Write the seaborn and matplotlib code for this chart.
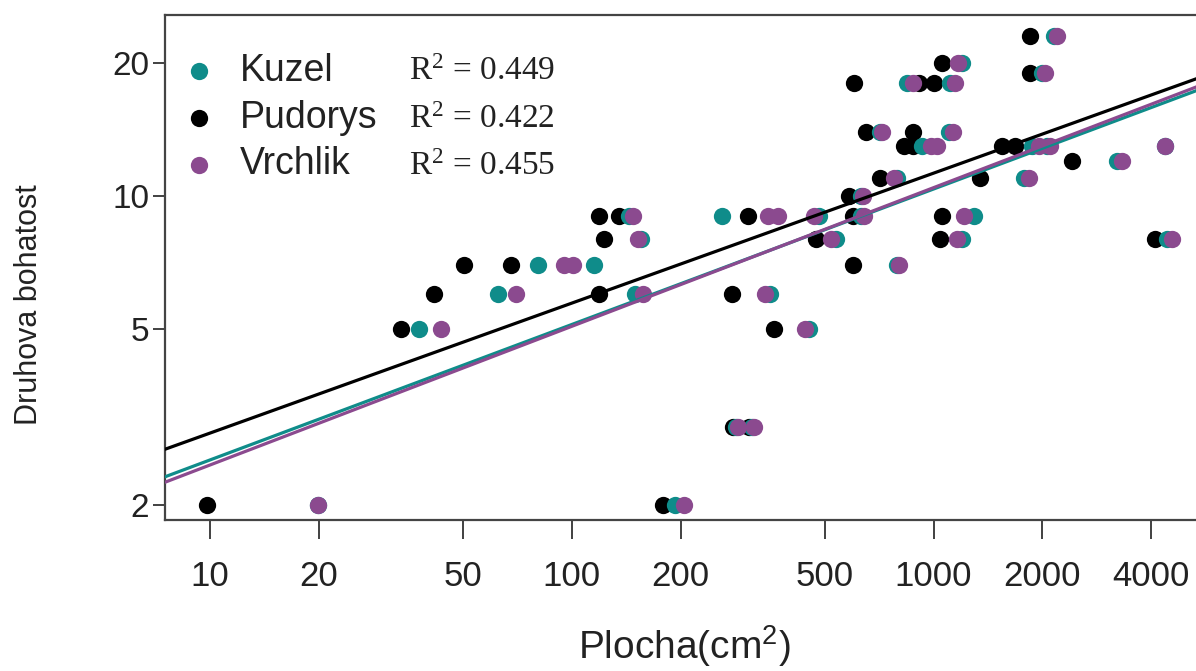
# %%
# Knihovny
import numpy as np
import pandas as pd
import matplotlib.pyplot as plt
import seaborn as sns

# %%
# Data - plocha v cm2, druhova bohatost
pudorys_plocha = [9.8, 179, 279, 309, 33.6, 363, 41.5, 119, 277, 50.2, 67.8, 600,
                  123, 474, 1040, 4093, 119, 135, 307, 600, 1052, 582, 713, 1341,
                  2411, 831, 880, 1542, 1676, 652, 880, 604, 909, 1006, 1845, 1052, 1845]
pudorys_druhy = [2, 2, 3, 3, 5, 5, 6, 6, 6, 7, 7, 7,
                 8, 8, 8, 8, 9, 9, 9, 9, 9, 10, 11, 11,
                 12, 13, 13, 13, 13, 14, 14, 18, 18, 18, 19, 20, 23]

kuzel_plocha = [19.9, 193, 285, 315, 37.9, 453, 62.4, 149, 352, 80.5, 115, 790,
                155, 538, 1196, 4420, 144, 260, 483, 632, 1291, 632, 790, 1775,
                3214, 927, 1868, 2055, 4365, 709, 1101, 842, 1107, 1992, 1196, 2149]
kuzel_druhy = [2, 2, 3, 3, 5, 5, 6, 6, 6, 7, 7, 7,
               8, 8, 8, 8, 9, 9, 9, 9, 9, 10, 11, 11,
               12, 13, 13, 13, 13, 14, 14, 18, 18, 19, 20, 23]

vrchlik_plocha = [19.8, 204, 288, 319, 43.4, 442, 70.0, 157, 342, 95.0, 101, 805,
                  152, 522, 1158, 4562, 148, 349, 372, 468, 644, 1211, 640, 775, 1833,
                  3318, 987, 1019, 1954, 2095, 4365, 718, 1135, 880, 1143, 2029, 1165, 2191]
vrchlik_druhy = [2, 2, 3, 3, 5, 5, 6, 6, 6, 7, 7, 7,
                 8, 8, 8, 8, 9, 9, 9, 9, 9, 9, 10, 11, 11,
                 12, 13, 13, 13, 13, 13, 14, 14, 18, 18, 19, 20, 23]

lokality = ['Pudorys', 'Kuzel', 'Vrchlik']
barvy = {'Kuzel': '#0f8c8a', 'Pudorys': '#000000', 'Vrchlik': '#8b4a8f'}
r2_texty = {'Kuzel': '0.449', 'Pudorys': '0.422', 'Vrchlik': '0.455'}

x_ticks = [10, 20, 50, 100, 200, 500, 1000, 2000, 4000]
y_ticks = [2, 5, 10, 20]

df = pd.concat([
    pd.DataFrame({'lokalita': 'Pudorys', 'plocha': pudorys_plocha, 'druhy': pudorys_druhy}),
    pd.DataFrame({'lokalita': 'Kuzel', 'plocha': kuzel_plocha, 'druhy': kuzel_druhy}),
    pd.DataFrame({'lokalita': 'Vrchlik', 'plocha': vrchlik_plocha, 'druhy': vrchlik_druhy}),
], ignore_index=True)
# log-log regrese
df['log_plocha'] = np.log10(df['plocha'])
df['log_druhy'] = np.log10(df['druhy'])

# %%
# Nastaveni grafu
sns.set_theme(style="white")
plt.rcParams['font.family'] = ['Liberation Sans', 'DejaVu Sans']
plt.rcParams['mathtext.default'] = 'regular'

fig = plt.figure(figsize=(11.96, 6.71), dpi=100)
ax = fig.add_axes([165 / 1196, 1 - 520 / 671, (1203 - 165) / 1196, (520 - 15) / 671])

xlim = (0.875, 3.745)
ylim = (0.267, 1.41)
ax.set_xlim(xlim)
ax.set_ylim(ylim)

for lok in lokality:
    sns.regplot(data=df[df['lokalita'] == lok], x='log_plocha', y='log_druhy', ax=ax,
                ci=None, truncate=False, color=barvy[lok], label=lok,
                scatter_kws=dict(s=155, alpha=1, linewidths=0, zorder=2),
                line_kws=dict(lw=2.3, zorder=3))

ax.set_xlim(xlim)
ax.set_ylim(ylim)

ax.set_xticks(np.log10(x_ticks))
ax.set_xticklabels([str(t) for t in x_ticks])
ax.set_yticks(np.log10(y_ticks))
ax.set_yticklabels([str(t) for t in y_ticks])
ax.tick_params(axis='x', bottom=True, length=14, width=1.3, pad=15, labelsize=25,
               color='#333333', labelcolor='#222222')
ax.tick_params(axis='y', left=True, length=8.5, width=1.3, pad=3, labelsize=24,
               color='#333333', labelcolor='#222222')

for s in ax.spines.values():
    s.set_color('#444444')
    s.set_linewidth(1.6)

ax.set_xlabel('Plocha(cm$^2$)', fontsize=28, color='#222222')
ax.set_ylabel('Druhova bohatost', fontsize=22, color='#222222')
ax.xaxis.set_label_coords(0.5, -0.205)
ax.yaxis.set_label_coords(-0.117, 0.426)

# legenda: Kuzel, Pudorys, Vrchlik
handles, labels = ax.get_legend_handles_labels()
poradi = ['Kuzel', 'Pudorys', 'Vrchlik']
handles = [handles[labels.index(p)] for p in poradi]
ax.legend(handles, poradi, loc='upper left', bbox_to_anchor=(0.0, 0.955),
          frameon=False, fontsize=27, handlelength=1, handletextpad=0.6,
          labelspacing=0.29, borderaxespad=0, borderpad=0.4, scatterpoints=1,
          labelcolor='#222222')

for i, p in enumerate(poradi):
    ax.text(0.235, [0.887, 0.792, 0.699][i], 'R$^2$ = ' + r2_texty[p],
            transform=ax.transAxes, va='center', ha='left', fontsize=24,
            family='Liberation Serif', color='#222222')

fig.savefig('out.png', dpi=100)
